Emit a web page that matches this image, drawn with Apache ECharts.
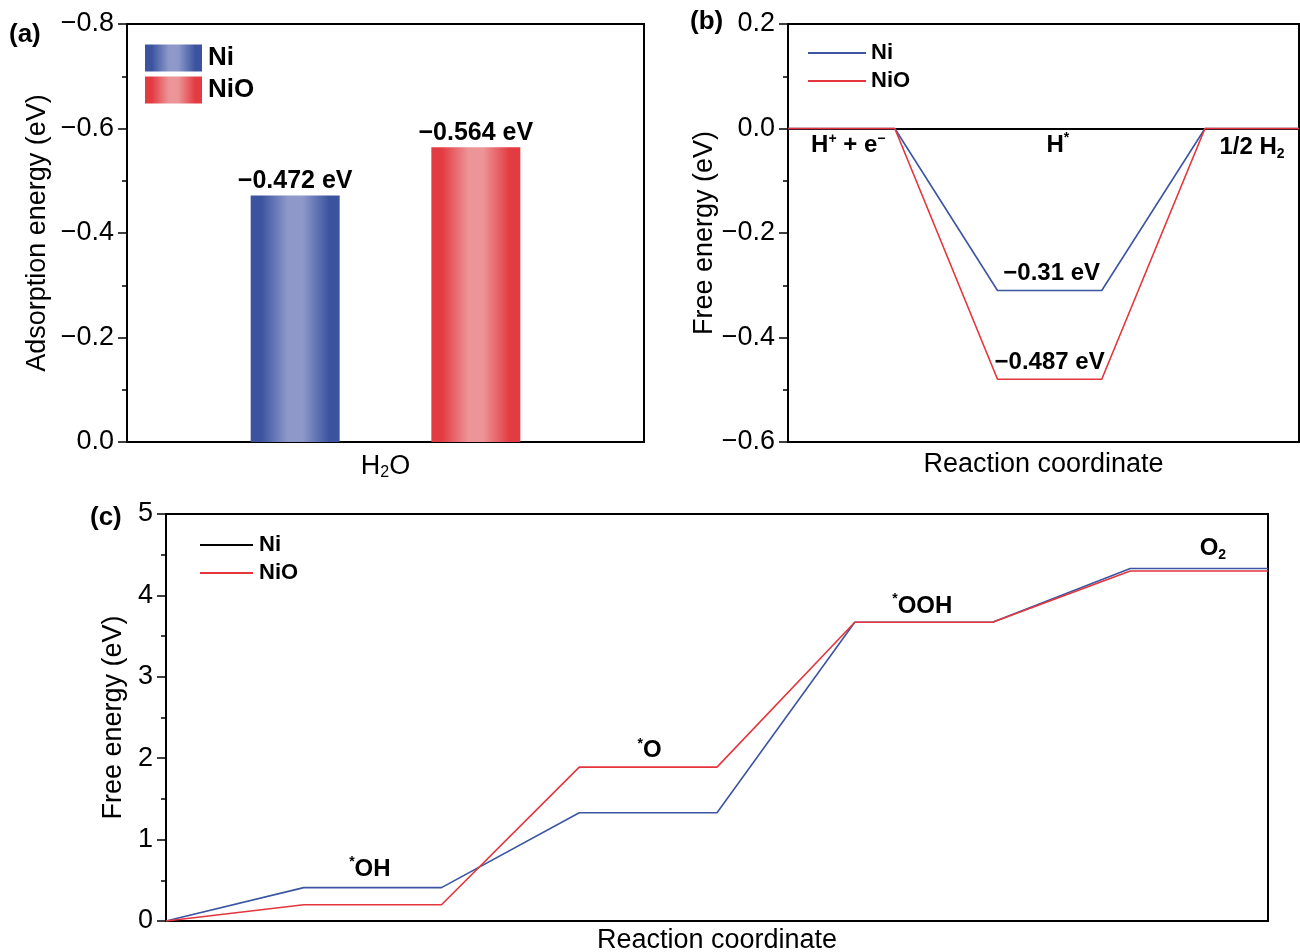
<!DOCTYPE html>
<html>
<head>
<meta charset="utf-8">
<script src="https://cdn.jsdelivr.net/npm/echarts@6/dist/echarts.min.js"></script>
<style>
  html, body { margin: 0; padding: 0; background: #fff; }
  #main { width: 1300px; height: 952px; }
</style>
</head>
<body>
<div id="main"></div>
<script>
// (a) adsorption energy of H2O
var adsCategories = ['H2O'];
var adsNi = [-0.472];
var adsNiO = [-0.564];

// (b) HER free energy diagram
var herX = [0, 1.045, 2.05, 3.07, 4.08, 5];
var herNi = [0, 0, -0.31, -0.31, 0, 0];
var herNiO = [0, 0, -0.48, -0.48, 0, 0];
var herLabels = ['{b|H}{sup|+}{b| + e}{sup|−}', '{b|H}{sup|*}', '{b|1/2 H}{sub|2}', '{b|−0.31 eV}', '{b|−0.487 eV}'];
var herLabelX = [0.59, 2.64, 4.54, 2.58, 2.56];
var herLabelY = [-0.033, -0.032, -0.036, -0.277, -0.447];

// (c) OER free energy diagram
var oerX = [0, 1, 2, 3, 4, 5, 6, 7, 8];
var oerNi = [0, 0.41, 0.41, 1.33, 1.33, 3.67, 3.67, 4.33, 4.33];
var oerNiO = [0, 0.20, 0.20, 1.89, 1.89, 3.67, 3.67, 4.30, 4.30];
var oerLabels = ['{sup|*}{b|OH}', '{sup|*}{b|O}', '{sup|*}{b|OOH}', '{b|O}{sub|2}'];
var oerLabelX = [1.48, 3.51, 5.49, 7.6];
var oerLabelY = [0.64, 2.09, 3.87, 4.58];

var BLUE = '#3c55a2';
var RED = '#e5353d';
var FONT = 'Liberation Sans';

function pairs(xs, ys) {
  return xs.map(function (x, i) { return [x, ys[i]]; });
}
function fmtNum(v) {
  if (Math.abs(v) < 1e-9) return '0.0';
  return (v < 0 ? '−' : '') + Math.abs(v).toFixed(1);
}
function grad(edge, mid) {
  return new echarts.graphic.LinearGradient(0, 0, 1, 0, [
    { offset: 0, color: edge },
    { offset: 0.12, color: edge },
    { offset: 0.42, color: mid },
    { offset: 0.58, color: mid },
    { offset: 0.88, color: edge },
    { offset: 1, color: edge }
  ]);
}

var rich = {
  b: { fontSize: 24, fontWeight: 'bold', color: '#000', fontFamily: FONT, lineHeight: 28 },
  sup: { fontSize: 14, fontWeight: 'bold', color: '#000', fontFamily: FONT, lineHeight: 14, verticalAlign: 'top' },
  sub: { fontSize: 14, fontWeight: 'bold', color: '#000', fontFamily: FONT, lineHeight: 12, verticalAlign: 'bottom' }
};

var axisLineStyle = { show: true, lineStyle: { color: '#000', width: 2 } };
var tickStyle = { show: true, inside: false, length: 9, lineStyle: { color: '#000', width: 1.5 } };
var minorStyle = { show: true, splitNumber: 2, length: 5, lineStyle: { color: '#000', width: 1.5 } };
var tickLabel = { color: '#000', fontSize: 27, fontFamily: FONT, margin: 13 };
var nameStyle = { color: '#000', fontSize: 27, fontFamily: FONT };
var legendText = function (size, gap) {
  return { fontSize: size, fontWeight: 'bold', color: '#000', fontFamily: FONT, lineHeight: size + 2, padding: [0, 0, 0, gap] };
};
var stripSuffix = function (n) { return n.split('·')[0]; };
var gridBase = { show: true, borderColor: '#000', borderWidth: 2, backgroundColor: 'transparent', outerBoundsMode: 'none', containLabel: false };

var chart = echarts.init(document.getElementById('main'), null, { renderer: 'canvas' });

chart.setOption({
  animation: false,
  textStyle: { fontFamily: FONT },
  grid: [
    Object.assign({ left: 127, top: 24, width: 517, height: 418 }, gridBase),
    Object.assign({ left: 788, top: 24, width: 511, height: 418 }, gridBase),
    Object.assign({ left: 166, top: 514, width: 1102, height: 407 }, gridBase)
  ],
  xAxis: [
    {
      gridIndex: 0, type: 'category', data: adsCategories,
      axisLine: axisLineStyle, axisTick: { show: false },
      axisLabel: {
        margin: 11,
        formatter: function () { return '{n|H}{s|2}{n|O}'; },
        rich: {
          n: { fontSize: 27, color: '#000', fontFamily: FONT, lineHeight: 28 },
          s: { fontSize: 16, color: '#000', fontFamily: FONT, lineHeight: 10, verticalAlign: 'bottom' }
        }
      }
    },
    {
      gridIndex: 1, type: 'value', min: 0, max: 5,
      axisLine: axisLineStyle, axisTick: { show: false }, axisLabel: { show: false }, splitLine: { show: false },
      name: 'Reaction coordinate', nameLocation: 'middle', nameGap: 9, nameTextStyle: nameStyle
    },
    {
      gridIndex: 2, type: 'value', min: 0, max: 8,
      axisLine: axisLineStyle, axisTick: { show: false }, axisLabel: { show: false }, splitLine: { show: false },
      name: 'Reaction coordinate', nameLocation: 'middle', nameGap: 6, nameTextStyle: nameStyle
    }
  ],
  yAxis: [
    {
      gridIndex: 0, type: 'value', min: -0.8, max: 0, interval: 0.2, inverse: true,
      axisLine: axisLineStyle, axisTick: tickStyle, minorTick: minorStyle, splitLine: { show: false },
      axisLabel: Object.assign({ formatter: fmtNum }, tickLabel),
      name: 'Adsorption energy (eV)', nameLocation: 'middle', nameGap: 76, nameTextStyle: nameStyle
    },
    {
      gridIndex: 1, type: 'value', min: -0.6, max: 0.2, interval: 0.2,
      axisLine: axisLineStyle, axisTick: tickStyle, minorTick: minorStyle, splitLine: { show: false },
      axisLabel: Object.assign({ formatter: fmtNum }, tickLabel),
      name: 'Free energy (eV)', nameLocation: 'middle', nameGap: 70, nameTextStyle: nameStyle
    },
    {
      gridIndex: 2, type: 'value', min: 0, max: 5, interval: 1,
      axisLine: axisLineStyle, axisTick: tickStyle, minorTick: minorStyle, splitLine: { show: false },
      axisLabel: tickLabel,
      name: 'Free energy (eV)', nameLocation: 'middle', nameGap: 36, nameTextStyle: nameStyle
    }
  ],
  legend: [
    {
      left: 145, top: 44, padding: 0, orient: 'vertical', itemWidth: 57, itemHeight: 27, itemGap: 4,
      icon: 'rect', data: ['Ni·a', 'NiO·a'],
      formatter: stripSuffix, textStyle: legendText(26, 1)
    },
    {
      left: 808, top: 41, padding: 0, orient: 'vertical', itemWidth: 58, itemHeight: 2, itemGap: 4,
      icon: 'rect', data: ['Ni·b', 'NiO·b'],
      formatter: stripSuffix, textStyle: legendText(22, 0)
    },
    {
      left: 200, top: 533, padding: 0, orient: 'vertical', itemWidth: 53, itemHeight: 2, itemGap: 4,
      icon: 'rect',
      data: [
        { name: 'Ni·c', itemStyle: { color: '#000' } },
        { name: 'NiO·c' }
      ],
      formatter: stripSuffix, textStyle: legendText(22, 1)
    }
  ],
  graphic: [
    { type: 'text', left: 9, top: 22, style: { text: '(a)', font: 'bold 26px "Liberation Sans"', fill: '#000' } },
    { type: 'text', left: 690, top: 9, style: { text: '(b)', font: 'bold 26px "Liberation Sans"', fill: '#000' } },
    { type: 'text', left: 90, top: 505, style: { text: '(c)', font: 'bold 26px "Liberation Sans"', fill: '#000' } }
  ],
  series: [
    {
      name: 'Ni·a', type: 'bar', xAxisIndex: 0, yAxisIndex: 0, data: adsNi,
      barWidth: 89, barGap: '103%',
      itemStyle: { color: grad('#3c54a0', '#8e99ca') },
      label: {
        show: true, position: 'top', distance: 2,
        formatter: function (p) { return '−' + Math.abs(p.value).toFixed(3) + ' eV'; },
        fontSize: 25, fontWeight: 'bold', color: '#000', fontFamily: FONT
      }
    },
    {
      name: 'NiO·a', type: 'bar', xAxisIndex: 0, yAxisIndex: 0, data: adsNiO,
      barWidth: 89,
      itemStyle: { color: grad('#e33b42', '#ec9598') },
      label: {
        show: true, position: 'top', distance: 2,
        formatter: function (p) { return '−' + Math.abs(p.value).toFixed(3) + ' eV'; },
        fontSize: 25, fontWeight: 'bold', color: '#000', fontFamily: FONT
      }
    },
    {
      name: 'Ni·b', type: 'line', xAxisIndex: 1, yAxisIndex: 1, data: pairs(herX, herNi),
      symbol: 'none', lineStyle: { color: BLUE, width: 1.6 }, itemStyle: { color: BLUE }
    },
    {
      name: 'NiO·b', type: 'line', xAxisIndex: 1, yAxisIndex: 1, data: pairs(herX, herNiO),
      symbol: 'none', lineStyle: { color: RED, width: 1.6 }, itemStyle: { color: RED }
    },
    {
      name: 'herLabels', type: 'scatter', xAxisIndex: 1, yAxisIndex: 1, data: pairs(herLabelX, herLabelY),
      symbolSize: 0, silent: true, itemStyle: { color: '#000', opacity: 1 },
      label: {
        show: true, position: 'inside', color: '#000', opacity: 1, textBorderWidth: 0,
        formatter: function (p) { return herLabels[p.dataIndex]; }, rich: rich
      }
    },
    {
      name: 'Ni·c', type: 'line', xAxisIndex: 2, yAxisIndex: 2, data: pairs(oerX, oerNi),
      symbol: 'none', lineStyle: { color: BLUE, width: 1.6 }, itemStyle: { color: BLUE }
    },
    {
      name: 'NiO·c', type: 'line', xAxisIndex: 2, yAxisIndex: 2, data: pairs(oerX, oerNiO),
      symbol: 'none', lineStyle: { color: RED, width: 1.6 }, itemStyle: { color: RED }
    },
    {
      name: 'oerLabels', type: 'scatter', xAxisIndex: 2, yAxisIndex: 2, data: pairs(oerLabelX, oerLabelY),
      symbolSize: 0, silent: true, itemStyle: { color: '#000', opacity: 1 },
      label: {
        show: true, position: 'inside', color: '#000', opacity: 1, textBorderWidth: 0,
        formatter: function (p) { return oerLabels[p.dataIndex]; }, rich: rich
      }
    }
  ]
});
</script>
</body>
</html>
